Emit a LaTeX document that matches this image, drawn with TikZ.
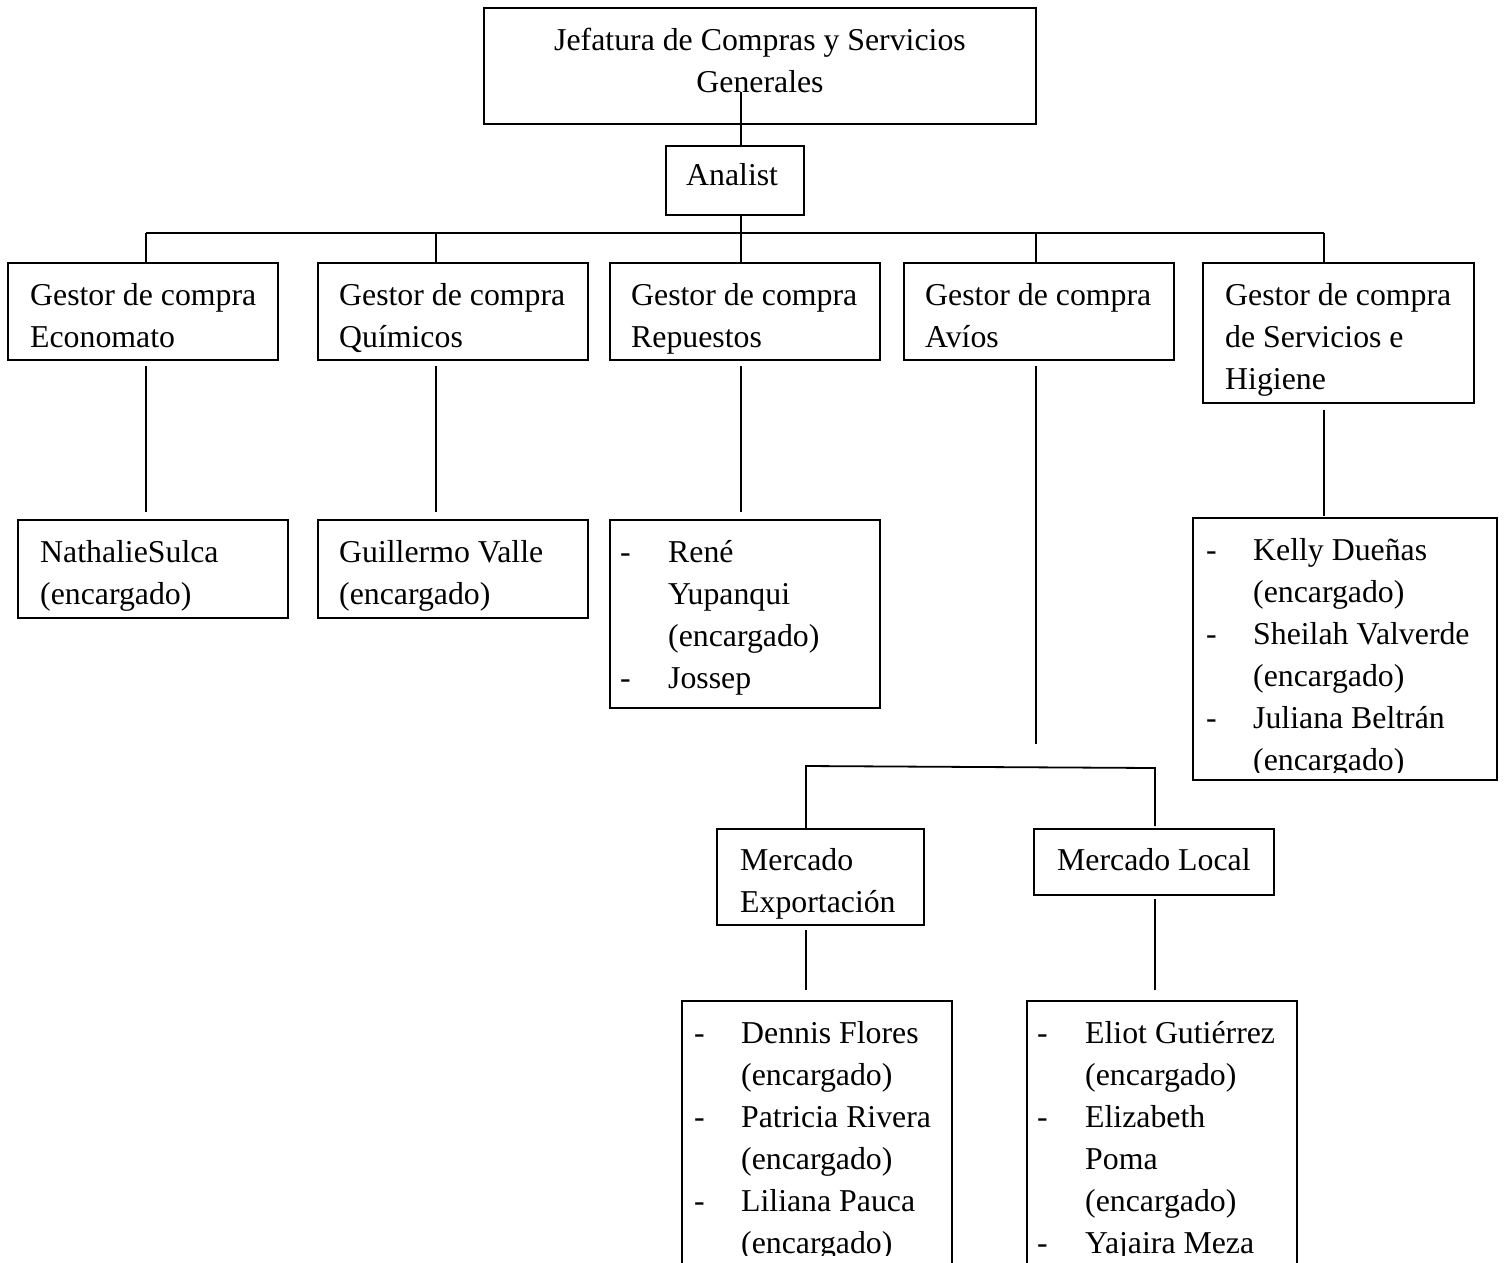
\documentclass[tikz,border=0pt]{standalone}
\usepackage{fontspec}
\setmainfont{Liberation Serif}
\usetikzlibrary{calc}
\begin{document}
\begin{tikzpicture}[x=1pt,y=-1pt,
  box/.style={draw, line width=1.8pt, rectangle, anchor=north west, inner sep=0pt, outer sep=0pt},
  conn/.style={line width=1.8pt},
  txt/.style={anchor=base west, inner sep=0pt, font=\fontsize{31.8}{42}\selectfont},
  ctxt/.style={anchor=base, inner sep=0pt, font=\fontsize{31.8}{42}\selectfont}]
\useasboundingbox (0,0) rectangle (1504,1262);
\clip (0,0) rectangle (1504,1262);

% boxes
\node[box, minimum width=552pt, minimum height=116pt] (jef) at (484,8) {};
\node[box, minimum width=138pt, minimum height=69pt] (ana) at (666,146) {};
\node[box, minimum width=270pt, minimum height=97pt] (g1) at (8,263) {};
\node[box, minimum width=270pt, minimum height=97pt] (g2) at (318,263) {};
\node[box, minimum width=270pt, minimum height=97pt] (g3) at (610,263) {};
\node[box, minimum width=270pt, minimum height=97pt] (g4) at (904,263) {};
\node[box, minimum width=271pt, minimum height=140pt] (g5) at (1203,263) {};
\node[box, minimum width=270pt, minimum height=98pt] (e1) at (18,520) {};
\node[box, minimum width=270pt, minimum height=98pt] (e2) at (318,520) {};
\node[box, minimum width=270pt, minimum height=188pt] (e3) at (610,520) {};
\node[box, minimum width=304pt, minimum height=262pt] (e5) at (1193,518) {};
\node[box, minimum width=207pt, minimum height=96pt] (mx) at (717,829) {};
\node[box, minimum width=240pt, minimum height=66pt] (ml) at (1034,829) {};
\node[box, minimum width=270pt, minimum height=320pt] (px) at (682,1001) {};
\node[box, minimum width=270pt, minimum height=320pt] (pl) at (1027,1001) {};

% texts
\node[ctxt] (tjef) at (760,50) {\begin{tabular}[t]{@{}c@{}}Jefatura de Compras y Servicios\\Generales\end{tabular}};
\node[txt] (tana) at (686,185) {Analist};
\node[txt] (tg1) at (30,305) {\begin{tabular}[t]{@{}l@{}}Gestor de compra\\Economato\end{tabular}};
\node[txt] (tg2) at (339,305) {\begin{tabular}[t]{@{}l@{}}Gestor de compra\\Químicos\end{tabular}};
\node[txt] (tg3) at (631,305) {\begin{tabular}[t]{@{}l@{}}Gestor de compra\\Repuestos\end{tabular}};
\node[txt] (tg4) at (925,305) {\begin{tabular}[t]{@{}l@{}}Gestor de compra\\Avíos\end{tabular}};
\begin{scope}
\clip (1203,263) rectangle (1474,399);
\node[txt] (tg5) at (1225,305) {\begin{tabular}[t]{@{}l@{}}Gestor de compra\\de Servicios e\\Higiene\end{tabular}};
\end{scope}
\node[txt] (te1) at (40,562) {\begin{tabular}[t]{@{}l@{}}NathalieSulca\\(encargado)\end{tabular}};
\node[txt] (te2) at (339,562) {\begin{tabular}[t]{@{}l@{}}Guillermo Valle\\(encargado)\end{tabular}};
\node[txt] (te3) at (620,562) {\begin{tabular}[t]{@{}p{48pt}@{}l@{}}-&René\\&Yupanqui\\&(encargado)\\-&Jossep\end{tabular}};
\begin{scope}
\clip (1193,518) rectangle (1497,772);
\node[txt] (te5) at (1206,560) {\begin{tabular}[t]{@{}p{47pt}@{}l@{}}-&Kelly Dueñas\\&(encargado)\\-&Sheilah Valverde\\&(encargado)\\-&Juliana Beltrán\\&(encargado)\end{tabular}};
\end{scope}
\node[txt] (tmx) at (740,870) {\begin{tabular}[t]{@{}l@{}}Mercado\\Exportación\end{tabular}};
\node[txt] (tml) at (1057,870) {Mercado Local};
\begin{scope}
\clip (600,1001) rectangle (1400,1255);
\node[txt] (tpx) at (694,1043) {\begin{tabular}[t]{@{}p{47pt}@{}l@{}}-&Dennis Flores\\&(encargado)\\-&Patricia Rivera\\&(encargado)\\-&Liliana Pauca\\&(encargado)\end{tabular}};
\node[txt] (tpl) at (1037,1043) {\begin{tabular}[t]{@{}p{48pt}@{}l@{}}-&Eliot Gutiérrez\\&(encargado)\\-&Elizabeth\\&Poma\\&(encargado)\\-&Yajaira Meza\end{tabular}};
\end{scope}

% junction points
\coordinate (j0) at (741,92);
\coordinate (b1) at (146,233);
\coordinate (b2) at (436,233);
\coordinate (b3) at (741,233);
\coordinate (b4) at (1036,233);
\coordinate (b5) at (1324,233);
\coordinate (av) at (1036,744);
\coordinate (m1) at (806,766);
\coordinate (m2) at (1155,768);

% connectors
\draw[conn] (j0) -- (j0 |- ana.north);
\draw[conn] (j0 |- ana.south) -- (b3);
\draw[conn] (b1) -- (b5);
\foreach \b/\g in {b1/g1, b2/g2, b3/g3, b4/g4, b5/g5}
  \draw[conn] (\b) -- ($(\b |- \g.north)+(0,-1)$);
\foreach \b/\g/\e in {b1/g1/e1, b2/g2/e2, b3/g3/e3}
  \draw[conn] ($(\b |- \g.south)+(0,6)$) -- ($(\b |- \e.north)+(0,-8)$);
\draw[conn] ($(b5 |- g5.south)+(0,7)$) -- ($(b5 |- e5.north)+(0,-2)$);
\draw[conn] ($(b4 |- g4.south)+(0,6)$) -- (av);
\draw[conn] ($(m1 |- mx.north)+(0,-1)$) -- (m1) -- (m2) -- ($(m2 |- ml.north)+(0,-3)$);
\draw[conn] ($(m1 |- mx.south)+(0,5)$) -- ($(m1 |- px.north)+(0,-11)$);
\draw[conn] ($(m2 |- ml.south)+(0,4)$) -- ($(m2 |- pl.north)+(0,-11)$);
\end{tikzpicture}
\end{document}
